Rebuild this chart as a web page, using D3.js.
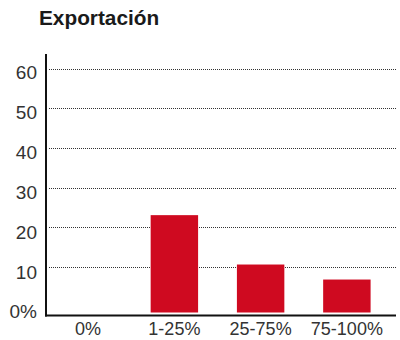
<!DOCTYPE html>
<html>
<head>
<meta charset="utf-8">
<script src="https://cdn.jsdelivr.net/npm/d3@7/dist/d3.min.js"></script>
<style>
  html, body { margin: 0; padding: 0; background: #fff; }
  svg { display: block; }
</style>
</head>
<body>
<svg id="chart" width="400" height="340"></svg>
<script>
// Share of companies by export intensity
const title = "Exportación";
const categories = ["0%", "1-25%", "25-75%", "75-100%"];
const values = [0, 23, 10.5, 6.7];
const yTicks = [0, 10, 20, 30, 40, 50, 60];

const svg = d3.select("#chart");
const font = "'Liberation Sans', Arial, Helvetica, sans-serif";

const axisX = 46;        // left axis line
const gridRight = 396;   // right end of gridlines / baseline
const baseY = 315.5;     // bottom axis line
const barFoot = 312.5;   // bars rest just above the axis line

const y = d3.scaleLinear().domain([0, 60]).range([306, 69]);
const x = d3.scaleBand().domain(categories).range([45, 390])
  .paddingInner(0.45).paddingOuter(0.225);

// Title
svg.append("text")
  .attr("x", 39).attr("y", 25)
  .attr("font-family", font).attr("font-weight", "bold")
  .attr("font-size", 20.8).attr("fill", "#1a1a1a")
  .text(title);

// Dotted gridlines
svg.append("g").selectAll("line")
  .data(yTicks.filter(d => d > 0))
  .join("line")
  .attr("x1", 49).attr("x2", gridRight)
  .attr("y1", d => Math.round(y(d)) + 0.5).attr("y2", d => Math.round(y(d)) + 0.5)
  .attr("stroke", "#333").attr("stroke-width", 1)
  .attr("stroke-dasharray", "1,1");

// Y tick labels
svg.append("g").selectAll("text")
  .data(yTicks)
  .join("text")
  .attr("x", 37)
  .attr("y", d => y(d) + 10 + (60 - d) / 25)
  .attr("text-anchor", "end")
  .attr("font-family", font).attr("font-size", 19)
  .attr("fill", "#333")
  .text(d => d === 0 ? "0%" : d);

// Bars
svg.append("g").selectAll("rect")
  .data(values.map((v, i) => ({ c: categories[i], v })).filter(d => d.v > 0))
  .join("rect")
  .attr("x", d => x(d.c))
  .attr("width", x.bandwidth())
  .attr("y", d => y(d.v))
  .attr("height", d => barFoot - y(d.v))
  .attr("fill", "#cf0a20");

// Axis lines
svg.append("line")
  .attr("x1", axisX).attr("x2", axisX)
  .attr("y1", 54).attr("y2", baseY + 1)
  .attr("stroke", "#111").attr("stroke-width", 2);
svg.append("line")
  .attr("x1", axisX - 1).attr("x2", gridRight)
  .attr("y1", baseY).attr("y2", baseY)
  .attr("stroke", "#111").attr("stroke-width", 2);

// X category labels
svg.append("g").selectAll("text")
  .data(categories)
  .join("text")
  .attr("x", d => x(d) + x.bandwidth() / 2)
  .attr("y", 335)
  .attr("text-anchor", "middle")
  .attr("font-family", font).attr("font-size", 18)
  .attr("fill", "#333")
  .text(d => d);
</script>
</body>
</html>
